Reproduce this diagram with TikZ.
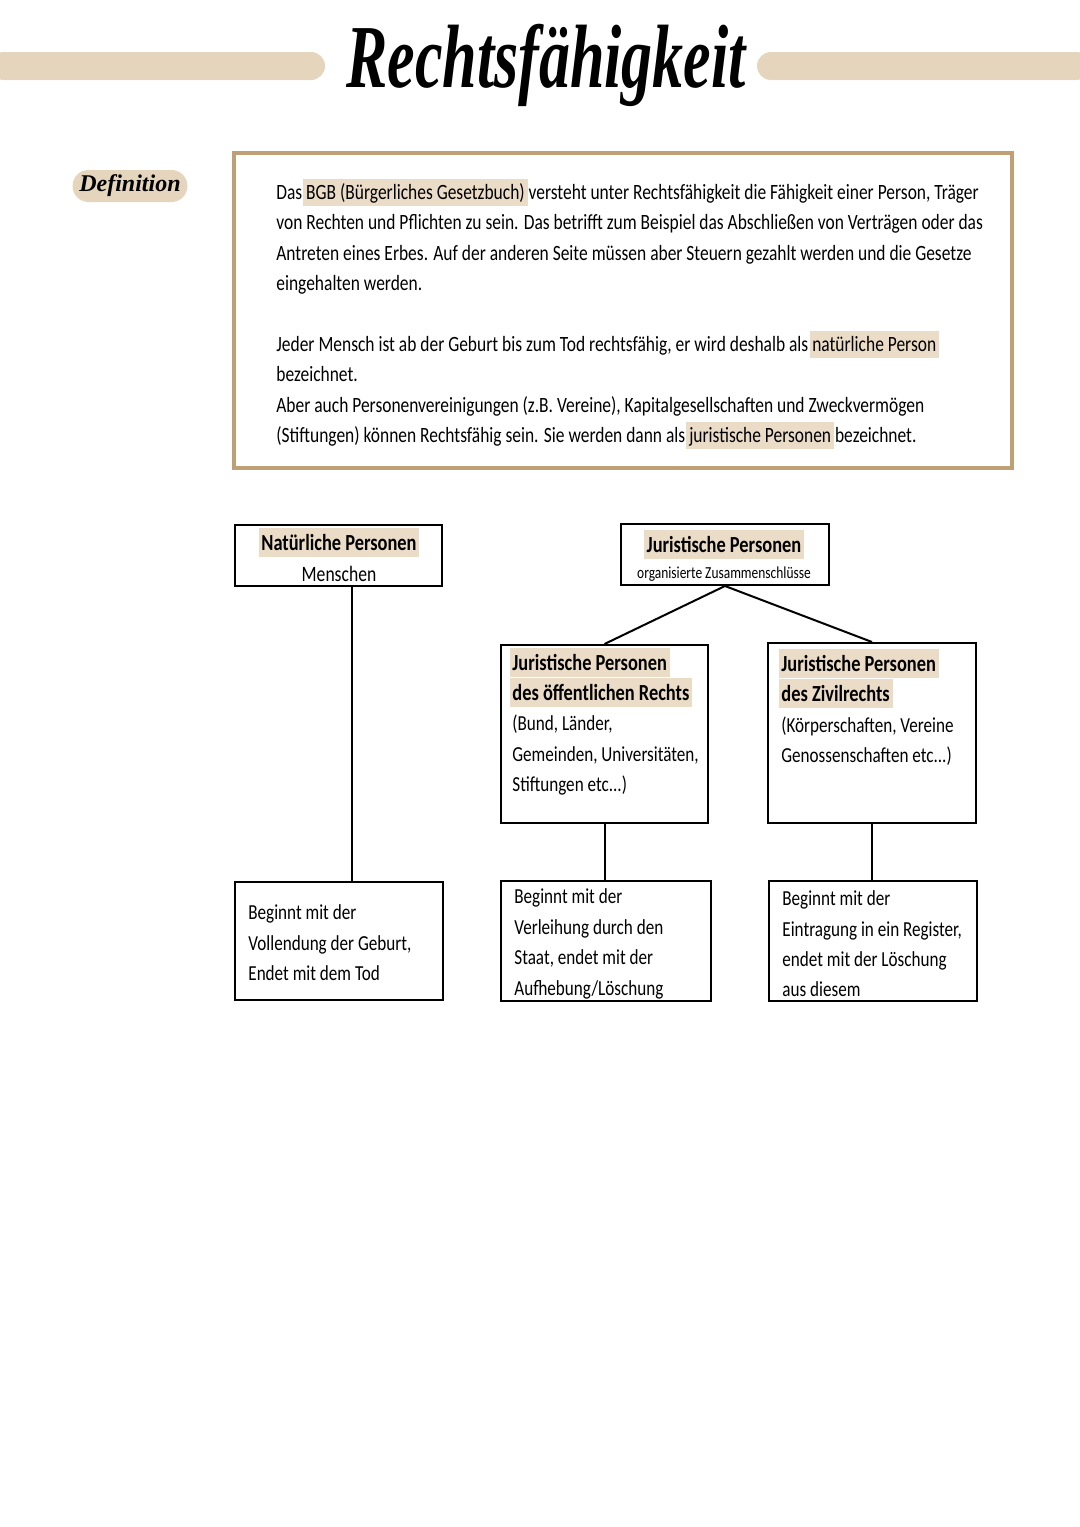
\documentclass[tikz,border=0pt]{standalone}
\usepackage{fontspec}
\setmainfont{Carlito}
\newfontfamily\hand[FakeStretch=0.8]{Carlito}
\newfontfamily\scriptf{Liberation Serif}
\definecolor{barc}{HTML}{E6D5BD}
\definecolor{hlc}{HTML}{EBDCC7}
\definecolor{framec}{HTML}{BF9F74}
\newcommand\hl[1]{{\setlength{\fboxsep}{1.4pt}\kern-1.4pt\colorbox{hlc}{\vphantom{Äg}#1}\kern-1.4pt}}
\tikzset{
  bar/.style={fill=barc, rounded corners=7pt, draw=none},
  deftxt/.style={anchor=base west, inner sep=0pt, font=\hand\fontsize{10.9}{12}\selectfont},
  dtxt/.style={anchor=base west, inner sep=0pt, font=\hand\fontsize{10.7}{13}\selectfont},
  dbold/.style={anchor=base, inner sep=0pt, font=\hand\bfseries\fontsize{11.5}{13}\selectfont},
  dboldl/.style={anchor=base west, inner sep=0pt, font=\hand\bfseries\fontsize{11.5}{13}\selectfont},
  box/.style={draw=black, line width=1pt, inner sep=0pt},
  conn/.style={draw=black, line width=1pt},
}
\begin{document}
\begin{tikzpicture}[x=0.5pt,y=-0.5pt]
\useasboundingbox (0,0) rectangle (1080,1527);
% header bars
\fill[bar] (-10,52) rectangle (325,80);
\fill[bar] (757,52) rectangle (1090,80);
% title
\node[font=\scriptf\bfseries\itshape\fontsize{31}{31}\selectfont, text=black, yscale=1.45, transform shape] (title) at (546,65) {Rechtsfähigkeit};
% definition label
\node[fill=barc, rounded corners=8pt, minimum width=57.5pt, minimum height=16pt, inner sep=0pt, font=\scriptf\bfseries\itshape\fontsize{12}{12}\selectfont] (deflabel) at (130,186) {Definition};
% definition frame
\node[draw=framec, line width=1.6pt, minimum width=389pt, minimum height=157.5pt, inner sep=0pt] (defbox) at (623,310.5) {};
\node[deftxt] (d1) at (276,199) {Das \hl{BGB (Bürgerliches Gesetzbuch)} versteht unter Rechtsfähigkeit die Fähigkeit einer Person, Träger};
\node[deftxt] (d2) at (276,229) {von Rechten und Pflichten zu sein. Das betrifft zum Beispiel das Abschließen von Verträgen oder das};
\node[deftxt] (d3) at (276,260) {Antreten eines Erbes. Auf der anderen Seite müssen aber Steuern gezahlt werden und die Gesetze};
\node[deftxt] (d4) at (276,290) {eingehalten werden.};
\node[deftxt] (d5) at (276,351) {Jeder Mensch ist ab der Geburt bis zum Tod rechtsfähig, er wird deshalb als \hl{natürliche Person}};
\node[deftxt] (d6) at (276,381) {bezeichnet.};
\node[deftxt] (d7) at (276,412) {Aber auch Personenvereinigungen (z.B. Vereine), Kapitalgesellschaften und Zweckvermögen};
\node[deftxt] (d8) at (276,442) {(Stiftungen) können Rechtsfähig sein. Sie werden dann als \hl{juristische Personen} bezeichnet.};
% diagram boxes
\node[box, minimum width=103.5pt, minimum height=30.5pt] (nat) at (338.5,555.5) {};
\node[box, minimum width=104pt, minimum height=30.5pt] (jur) at (725,554.5) {};
\node[box, minimum width=103.5pt, minimum height=89pt] (pub) at (604.5,734) {};
\node[box, minimum width=104pt, minimum height=90pt] (civ) at (872,733) {};
\node[box, minimum width=104pt, minimum height=59pt] (b1) at (339,941) {};
\node[box, minimum width=105pt, minimum height=60pt] (b2) at (606,941) {};
\node[box, minimum width=104pt, minimum height=60pt] (b3) at (873,941) {};
% connectors
\draw[conn] (nat.south -| 352,0) -- (b1.north -| 352,0);
\draw[conn] (jur.south) -- (pub.north);
\draw[conn] (jur.south) -- (civ.north);
\draw[conn] (pub.south) -- (b2.north -| pub.south);
\draw[conn] (civ.south) -- (b3.north -| civ.south);
% box texts
\node[dbold] (natt) at (339,550) {\hl{Natürliche Personen}};
\node[anchor=base, inner sep=0pt, font=\hand\fontsize{11}{13}\selectfont] (nats) at (339,581) {Menschen};
\node[dbold] (jurt) at (724,552) {\hl{Juristische Personen}};
\node[anchor=base, inner sep=0pt, font=\hand\fontsize{8.4}{10}\selectfont] (jurs) at (724,578) {organisierte Zusammenschlüsse};
\node[dboldl] (p1) at (512,670) {\hl{Juristische Personen}};
\node[dboldl] (p2) at (512,700) {\hl{des öffentlichen Rechts}};
\node[dtxt] (p3) at (512,730) {(Bund, Länder,};
\node[dtxt] (p4) at (512,761) {Gemeinden, Universitäten,};
\node[dtxt] (p5) at (512,791) {Stiftungen etc...)};
\node[dboldl] (c1) at (781,671) {\hl{Juristische Personen}};
\node[dboldl] (c2) at (781,701) {\hl{des Zivilrechts}};
\node[dtxt] (c3) at (781,732) {(Körperschaften, Vereine};
\node[dtxt] (c4) at (781,762) {Genossenschaften etc...)};
\node[dtxt] (e1) at (248,919) {Beginnt mit der};
\node[dtxt] (e2) at (248,950) {Vollendung der Geburt,};
\node[dtxt] (e3) at (248,980) {Endet mit dem Tod};
\node[dtxt] (f1) at (514,903) {Beginnt mit der};
\node[dtxt] (f2) at (514,934) {Verleihung durch den};
\node[dtxt] (f3) at (514,964) {Staat, endet mit der};
\node[dtxt] (f4) at (514,995) {Aufhebung/Löschung};
\node[dtxt] (g1) at (782,905) {Beginnt mit der};
\node[dtxt] (g2) at (782,936) {Eintragung in ein Register,};
\node[dtxt] (g3) at (782,966) {endet mit der Löschung};
\node[dtxt] (g4) at (782,996) {aus diesem};
\end{tikzpicture}
\end{document}
